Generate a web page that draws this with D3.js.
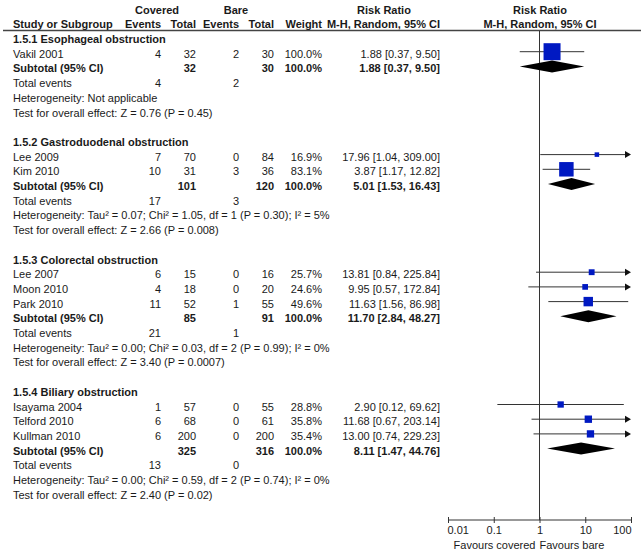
<!DOCTYPE html>
<html>
<head>
<meta charset="utf-8">
<script src="https://d3js.org/d3.v7.min.js"></script>
<style>
    body { margin: 0; background: #fff; }
    svg text { font-family: Arial, "Liberation Sans", sans-serif; font-size: 11px; fill: #1a1a1a; }
    .b { font-weight: bold; }
</style>
</head>
<body>
<div id="chart"></div>
<script>
// subgroup data
const groupTitles = ["1.5.1 Esophageal obstruction", "1.5.2 Gastroduodenal obstruction",
                     "1.5.3 Colorectal obstruction", "1.5.4 Biliary obstruction"];
const subCovTotal = [32, 101, 85, 325];
const subBareTotal = [30, 120, 91, 316];
const subRR = [1.88, 5.01, 11.70, 8.11];
const subLo = [0.37, 1.53, 2.84, 1.47];
const subHi = [9.50, 16.43, 48.27, 44.76];
const totCov = [4, 17, 21, 13];
const totBare = [2, 3, 1, 0];
const hetText = [
    "Heterogeneity: Not applicable",
    "Heterogeneity: Tau² = 0.07; Chi² = 1.05, df = 1 (P = 0.30); I² = 5%",
    "Heterogeneity: Tau² = 0.00; Chi² = 0.03, df = 2 (P = 0.99); I² = 0%",
    "Heterogeneity: Tau² = 0.00; Chi² = 0.59, df = 2 (P = 0.74); I² = 0%"
];
const testText = [
    "Test for overall effect: Z = 0.76 (P = 0.45)",
    "Test for overall effect: Z = 2.66 (P = 0.008)",
    "Test for overall effect: Z = 3.40 (P = 0.0007)",
    "Test for overall effect: Z = 2.40 (P = 0.02)"
];

// study data
const studyGroup = [0, 1, 1, 2, 2, 2, 3, 3, 3];
const studyNames = ["Vakil 2001", "Lee 2009", "Kim 2010", "Lee 2007", "Moon 2010", "Park 2010",
                    "Isayama 2004", "Telford 2010", "Kullman 2010"];
const covEvents = [4, 7, 10, 6, 4, 11, 1, 6, 6];
const covTotal = [32, 70, 31, 15, 18, 52, 57, 68, 200];
const bareEvents = [2, 0, 3, 0, 0, 1, 0, 0, 0];
const bareTotal = [30, 84, 36, 16, 20, 55, 55, 61, 200];
const weights = [100, 16.9, 83.1, 25.7, 24.6, 49.6, 28.8, 35.8, 35.4];
const rr = [1.88, 17.96, 3.87, 13.81, 9.95, 11.63, 2.90, 11.68, 13.00];
const lo = [0.37, 1.04, 1.17, 0.84, 0.57, 1.56, 0.12, 0.67, 0.74];
const hi = [9.50, 309.00, 12.82, 225.84, 172.84, 86.98, 69.62, 203.14, 229.23];

const axisTicks = [0.01, 0.1, 1, 10, 100];

const width = 643, height = 554;
const svg = d3.select("#chart").append("svg")
    .attr("width", width).attr("height", height);

// column positions (right edges)
const col = { name: 13, ce: 161, ct: 196, be: 239, bt: 274, w: 322, rr: 440 };
const row0 = 39, rowStep = 14.7;

const x = d3.scaleLog().domain([0.01, 100]).range([448, 631]);
const size = d3.scaleLinear().domain([0, 100]).range([2, 17]);

// build row list
const rows = [];
groupTitles.forEach((t, g) => {
    rows.push({ type: "title", g });
    studyNames.forEach((n, i) => { if (studyGroup[i] === g) rows.push({ type: "study", i }); });
    rows.push({ type: "sub", g });
    rows.push({ type: "tot", g });
    rows.push({ type: "het", g });
    rows.push({ type: "test", g });
    rows.push({ type: "blank" });
});

function txt(xp, y, s, anchor, bold) {
    svg.append("text").attr("x", xp).attr("y", y)
        .attr("text-anchor", anchor || "end")
        .attr("class", bold ? "b" : null)
        .text(s);
}
const ci = (a, b, c) => `${a.toFixed(2)} [${b.toFixed(2)}, ${c.toFixed(2)}]`;

// header
txt(157, 14, "Covered", "middle", true);
txt(236, 14, "Bare", "middle", true);
txt(384, 14, "Risk Ratio", "middle", true);
txt(540, 14, "Risk Ratio", "middle", true);
txt(col.name, 28, "Study or Subgroup", "start", true);
txt(col.ce, 28, "Events", "end", true);
txt(col.ct, 28, "Total", "end", true);
txt(col.be, 28, "Events", "end", true);
txt(col.bt, 28, "Total", "end", true);
txt(col.w, 28, "Weight", "end", true);
txt(col.rr, 28, "M-H, Random, 95% CI", "end", true);
txt(540, 28, "M-H, Random, 95% CI", "middle", true);

svg.append("line").attr("x1", 3).attr("x2", 641).attr("y1", 30.5).attr("y2", 30.5)
    .attr("stroke", "#444").attr("stroke-width", 1.5);

// null line
svg.append("line").attr("x1", x(1)).attr("x2", x(1)).attr("y1", 31).attr("y2", 520)
    .attr("stroke", "#333").attr("stroke-width", 1);

rows.forEach((r, k) => {
    const yc = row0 + k * rowStep;
    const yb = yc + 4;
    const ym = yc - 2;
    if (r.type === "title") {
        txt(col.name, yb, groupTitles[r.g], "start", true);
    } else if (r.type === "study") {
        const i = r.i;
        txt(col.name, yb, studyNames[i], "start");
        txt(col.ce, yb, covEvents[i]);
        txt(col.ct, yb, covTotal[i]);
        txt(col.be, yb, bareEvents[i]);
        txt(col.bt, yb, bareTotal[i]);
        txt(col.w, yb, weights[i].toFixed(1) + "%");
        txt(col.rr, yb, ci(rr[i], lo[i], hi[i]));
        const x2 = x(Math.min(hi[i], 100)) - (hi[i] > 100 ? 4 : 0);
        svg.append("line").attr("x1", x(lo[i])).attr("x2", x2).attr("y1", ym).attr("y2", ym)
            .attr("stroke", "#333").attr("stroke-width", 1);
        if (hi[i] > 100) {
            const xe = x(100);
            svg.append("path").attr("d", `M${xe},${ym} L${xe - 6},${ym - 3.5} L${xe - 6},${ym + 3.5} Z`)
                .attr("fill", "#111");
        }
        const s = size(weights[i]);
        svg.append("rect").attr("x", x(rr[i]) - s / 2).attr("y", ym - s / 2)
            .attr("width", s).attr("height", s).attr("fill", "#0019C2");
    } else if (r.type === "sub") {
        const g = r.g;
        txt(col.name, yb, "Subtotal (95% CI)", "start", true);
        txt(col.ct, yb, subCovTotal[g], "end", true);
        txt(col.bt, yb, subBareTotal[g], "end", true);
        txt(col.w, yb, "100.0%", "end", true);
        txt(col.rr, yb, ci(subRR[g], subLo[g], subHi[g]), "end", true);
        const h = 6;
        svg.append("path")
            .attr("d", `M${x(subLo[g])},${ym} L${x(subRR[g])},${ym - h} L${x(subHi[g])},${ym} L${x(subRR[g])},${ym + h} Z`)
            .attr("fill", "#000");
    } else if (r.type === "tot") {
        txt(col.name, yb, "Total events", "start");
        txt(col.ce, yb, totCov[r.g]);
        txt(col.be, yb, totBare[r.g]);
    } else if (r.type === "het") {
        txt(col.name, yb, hetText[r.g], "start");
    } else if (r.type === "test") {
        txt(col.name, yb, testText[r.g], "start");
    }
});

// axis
const axisY = 520;
const axis = d3.axisBottom(x).tickValues(axisTicks).tickSize(3).tickFormat(d3.format("~g"));
const ag = svg.append("g").attr("transform", `translate(0,${axisY})`).call(axis);
ag.select(".domain").attr("d", `M${x(0.01)},0H${x(100)}`).attr("stroke", "#333");
ag.selectAll(".tick line").attr("y1", -3).attr("y2", 3).attr("stroke", "#333");
ag.selectAll(".tick text")
    .attr("y", 14).attr("dy", 0)
    .attr("font-size", null).attr("font-family", null)
    .attr("text-anchor", (d, i) => i === 0 ? "start" : (i === axisTicks.length - 1 ? "end" : "middle"))
    .attr("dx", (d, i) => i === 0 ? -1 : 0);

txt(x(1) - 4, 549, "Favours covered", "end");
txt(x(1) + 0, 549, "Favours bare", "start");
</script>
</body>
</html>
